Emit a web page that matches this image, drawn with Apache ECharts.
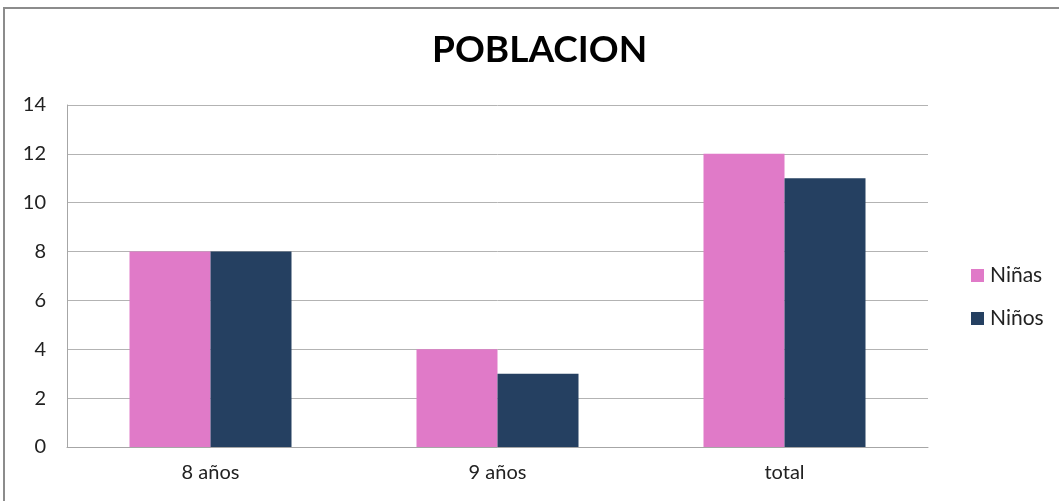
<!DOCTYPE html>
<html>
<head>
<meta charset="utf-8">
<script src="https://cdn.jsdelivr.net/npm/echarts@6/dist/echarts.min.js"></script>
<style>
  html, body { margin: 0; padding: 0; background: #fff; }
  #frame { position: absolute; left: 3px; top: 7px; width: 1080px; height: 520px;
           border: 2px solid #8c8c8c; box-sizing: border-box; }
  #chart { position: absolute; left: 0; top: 0; width: 1059px; height: 501px; }
</style>
</head>
<body>
<div id="frame"></div>
<div id="chart"></div>
<script>
// datos
var categorias = ['8 años', '9 años', 'total'];
var ninas = [8, 4, 12];
var ninos = [8, 3, 11];

var dom = document.getElementById('chart');
var myChart = echarts.init(dom);

var option = {
    animation: false,
    title: {
        text: 'POBLACION',
        left: 427,
        top: 27,
        textStyle: { fontFamily: 'Lato', fontWeight: 'bold', fontSize: 37, color: '#000' }
    },
    legend: {
        orient: 'vertical',
        left: 966,
        top: 260,
        itemWidth: 13,
        itemHeight: 13,
        itemGap: 22,
        icon: 'rect',
        textStyle: { fontFamily: 'Lato', fontSize: 21, color: '#222', padding: [0, 0, 0, 1] },
        data: ['Niñas', 'Niños']
    },
    grid: { left: 67, right: 131, top: 105, bottom: 54 },
    xAxis: {
        type: 'category',
        data: categorias,
        axisLine: { lineStyle: { color: '#a6a6a6', width: 1 } },
        axisTick: { show: false },
        axisLabel: { fontFamily: 'Lato', fontSize: 20, color: '#222', margin: 16 }
    },
    yAxis: {
        type: 'value',
        min: 0,
        max: 14,
        interval: 2,
        axisLine: { show: true, lineStyle: { color: '#a6a6a6' } },
        axisTick: { show: false },
        splitLine: { lineStyle: { color: '#b3b3b3', width: 1 } },
        axisLabel: { fontFamily: 'Lato', fontSize: 20, color: '#222', margin: 21 }
    },
    series: [
        {
            name: 'Niñas',
            type: 'bar',
            data: ninas,
            barWidth: 81,
            barGap: '0%',
            itemStyle: { color: '#e07ac8' }
        },
        {
            name: 'Niños',
            type: 'bar',
            data: ninos,
            barWidth: 81,
            barGap: '0%',
            itemStyle: { color: '#254061' }
        }
    ]
};

myChart.setOption(option, true);
</script>
</body>
</html>
